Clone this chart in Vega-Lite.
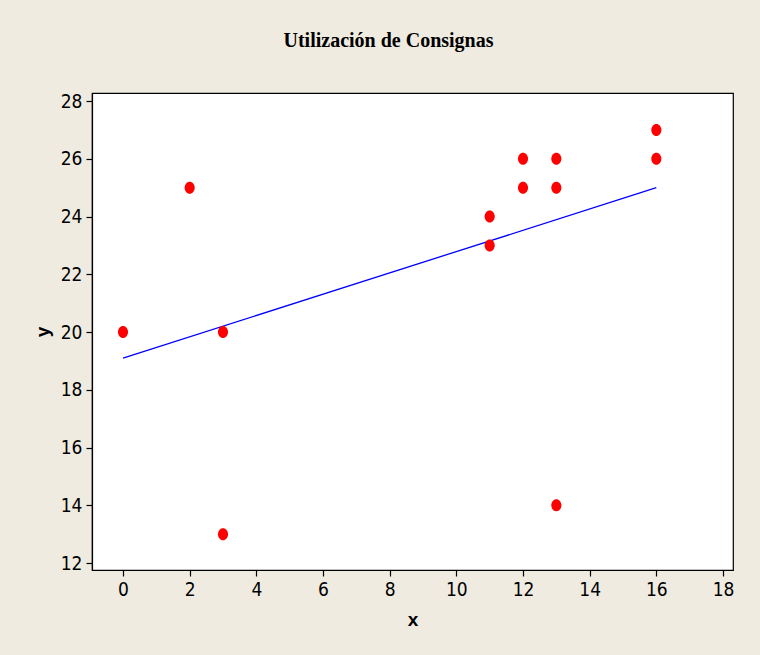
{
  "$schema": "https://vega.github.io/schema/vega-lite/v6.json",
  "width": 641,
  "height": 477,
  "autosize": {"type": "none"},
  "padding": {"left": 92, "top": 93, "right": 27, "bottom": 85},
  "background": "#EFEBE1",
  "datasets": {
    "points": [
      {"x": 0, "y": 20}, {"x": 2, "y": 25}, {"x": 3, "y": 20}, {"x": 3, "y": 13},
      {"x": 11, "y": 24}, {"x": 11, "y": 23}, {"x": 12, "y": 26}, {"x": 12, "y": 25},
      {"x": 13, "y": 26}, {"x": 13, "y": 25}, {"x": 13, "y": 14},
      {"x": 16, "y": 27}, {"x": 16, "y": 26}
    ],
    "fit": [
      {"x": 0, "y": 19.1}, {"x": 16, "y": 25.0}
    ]
  },
  "title": {
    "text": "Utilización de Consignas",
    "font": "Liberation Serif",
    "fontSize": 20,
    "fontWeight": "bold",
    "color": "#000000",
    "frame": "group",
    "anchor": "middle",
    "baseline": "alphabetic",
    "offset": 25,
    "dx": -24
  },
  "config": {
    "view": {"stroke": "#000000", "strokeWidth": 1.2, "fill": "#FFFFFF"},
    "axis": {
      "grid": false,
      "domainColor": "#000000",
      "domainWidth": 1.2,
      "tickColor": "#000000",
      "tickWidth": 1.2,
      "tickSize": 6,
      "labelFont": "Liberation Sans Narrow, DejaVu Sans Condensed, sans-serif",
      "labelFontSize": 19,
      "labelColor": "#000000",
      "titleFont": "Liberation Sans, Arial, sans-serif",
      "titleFontSize": 19,
      "titleFontWeight": "bold",
      "titleColor": "#000000"
    }
  },
  "layer": [
    {
      "data": {"name": "fit"},
      "mark": {"type": "line", "color": "#0000FF", "strokeWidth": 1.3},
      "encoding": {
        "x": {
          "field": "x", "type": "quantitative",
          "scale": {"domain": [-0.93, 18.3], "nice": false, "zero": false},
          "axis": {"values": [0, 2, 4, 6, 8, 10, 12, 14, 16, 18], "title": "x", "labelPadding": 4, "titlePadding": 11}
        },
        "y": {
          "field": "y", "type": "quantitative",
          "scale": {"domain": [11.76, 28.28], "nice": false, "zero": false},
          "axis": {"values": [12, 14, 16, 18, 20, 22, 24, 26, 28], "title": "y", "labelPadding": 4, "titlePadding": 8}
        }
      }
    },
    {
      "data": {"name": "points"},
      "mark": {
        "type": "point",
        "filled": true,
        "color": "#FF0000",
        "opacity": 1,
        "size": 144,
        "shape": "M-0.84,0A0.84,1 0 1,1 0.84,0A0.84,1 0 1,1 -0.84,0Z"
      },
      "encoding": {
        "x": {"field": "x", "type": "quantitative"},
        "y": {"field": "y", "type": "quantitative"}
      }
    }
  ]
}
